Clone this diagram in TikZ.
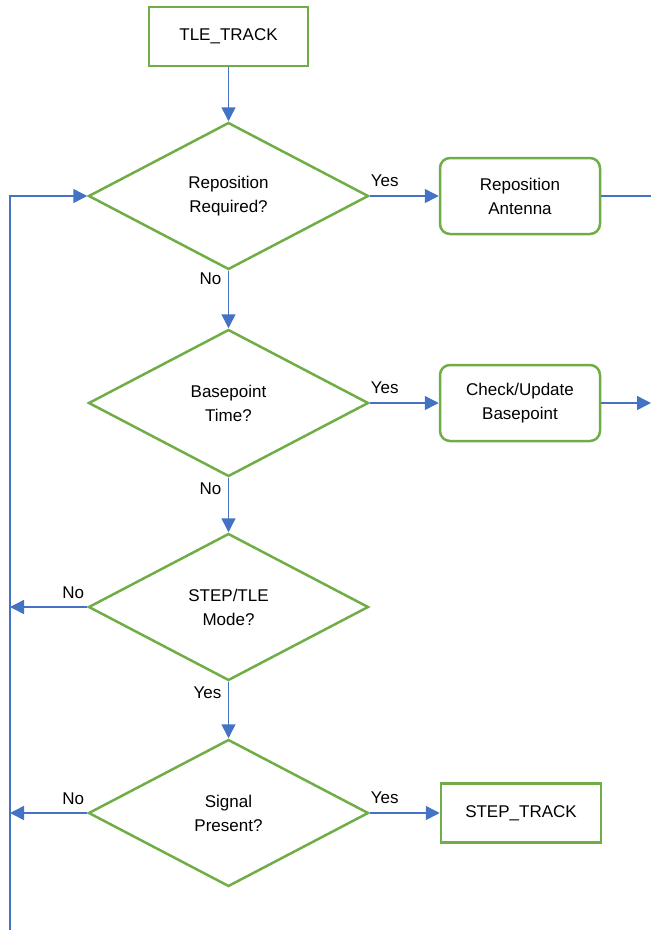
\documentclass[tikz,border=0pt]{standalone}
\usepackage{fontspec}
\setsansfont{Liberation Sans}
\usepackage{tikz}
\usetikzlibrary{arrows.meta,shapes.geometric,positioning}
\definecolor{leaf}{RGB}{112,173,71}
\definecolor{azure}{RGB}{68,114,196}

\begin{document}
\begin{tikzpicture}[x=1pt, y=1pt,
			textStyle/.style={font=\sffamily\fontsize{17}{24}\selectfont, align=center},
			stateBox/.style={textStyle, draw=leaf, line width=2.5pt, minimum width=159pt, minimum height=59pt},
			actionBox/.style={stateBox, rounded corners=10pt, minimum width=160pt, minimum height=76pt},
			decision/.style={textStyle, diamond, draw=leaf, line width=2.5pt, minimum width=280pt, minimum height=147pt, inner sep=0pt},
			arrowStyle/.style={-{Triangle[length=14pt, width=14pt]}, azure, line width=1.5pt},
			lineStyle/.style={azure, line width=1.5pt},
			answer/.style={font=\sffamily\fontsize{17}{20}\selectfont, inner sep=0pt},]
			
			\useasboundingbox (0,0) rectangle (651,-930);
			
			\node[stateBox] (tle) at (228.5,-36.5) {TLE\_TRACK};
			
			\node[decision, below=54pt of tle] (reposQ) {Reposition\\Required?};
			\node[decision, below=57.5pt of reposQ] (baseQ) {Basepoint\\Time?};
			\node[decision, below=54.5pt of baseQ] (modeQ) {STEP/TLE\\Mode?};
			\node[decision, below=56.5pt of modeQ] (signalQ) {Signal\\Present?};
			
			\node[actionBox, right=69pt of reposQ] (reposA) {Reposition\\Antenna};
			\node[actionBox, right=69pt of baseQ] (baseA) {Check/Update\\Basepoint};
			\node[stateBox, right=70pt of signalQ, minimum width=160pt] (step) {STEP\_TRACK};
			
			\coordinate (loopEnd) at (10,-930);
			\coordinate (rightEdge) at (651,0);
			
			\draw[arrowStyle] (tle) -- (reposQ);
			\draw[arrowStyle] (reposQ) -- (baseQ);
			\draw[arrowStyle] (baseQ) -- (modeQ);
			\draw[arrowStyle] (modeQ) -- (signalQ);
			
			\foreach \from/\to in {reposQ/reposA, baseQ/baseA, signalQ/step}
			\draw[arrowStyle] (\from) -- (\to);
			
			\draw[lineStyle] (reposA) -- (reposA.east -| rightEdge);
			\draw[arrowStyle] (baseA) -- (baseA.east -| rightEdge);
			
			% loop back to the first question
			\draw[arrowStyle] (loopEnd) |- (reposQ.west);
			\foreach \q in {modeQ, signalQ}
			\draw[arrowStyle] (\q.west) -- (\q.west -| loopEnd);
			
			\node[answer, anchor=south west, xshift=1pt, yshift=9pt] at (reposQ.east) {Yes};
			\node[answer, anchor=south west, xshift=1pt, yshift=9pt] at (baseQ.east) {Yes};
			\node[answer, anchor=south west, xshift=1pt, yshift=9pt] at (signalQ.east) {Yes};
			
			\node[answer, anchor=north east, xshift=-7pt, yshift=-2pt] at (reposQ.south) {No};
			\node[answer, anchor=north east, xshift=-7pt, yshift=-5pt] at (baseQ.south) {No};
			\node[answer, anchor=north east, xshift=-7pt, yshift=-5pt] at (modeQ.south) {Yes};
			
			\node[answer, anchor=south east, xshift=-3pt, yshift=8pt] at (modeQ.west) {No};
			\node[answer, anchor=south east, xshift=-3pt, yshift=8pt] at (signalQ.west) {No};
		\end{tikzpicture}
\end{document}
